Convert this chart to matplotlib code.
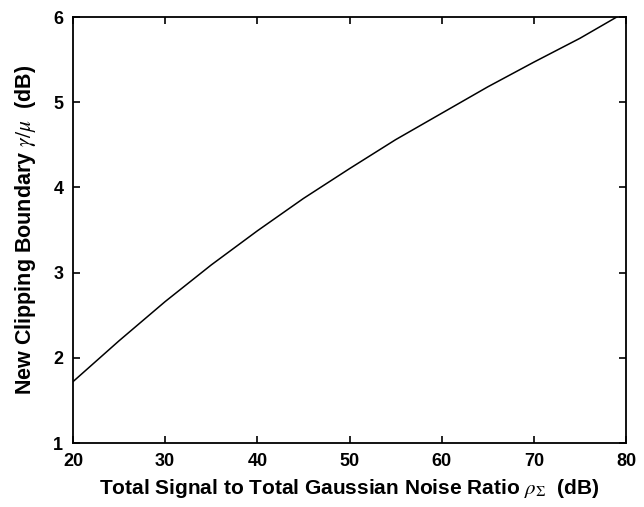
import matplotlib
matplotlib.use("Agg")
import matplotlib.pyplot as plt

snr_db = [20, 25, 30, 35, 40, 45, 50, 55, 60, 65, 70, 75, 79]
clip_db = [1.72, 2.20, 2.66, 3.09, 3.49, 3.87, 4.22, 4.56, 4.87, 5.18, 5.47, 5.75, 6.0]

x_ticks = [20, 30, 40, 50, 60, 70, 80]
y_ticks = [1, 2, 3, 4, 5, 6]

plt.rcParams['font.family'] = ['Liberation Sans', 'DejaVu Sans']
plt.rcParams['mathtext.fontset'] = 'stix'

fig = plt.figure(figsize=(6.44, 5.07), dpi=100)
ax = fig.add_axes([73 / 644, 1 - 443 / 507, (626 - 73) / 644, (443 - 17) / 507])
ax.plot(snr_db, clip_db, color='black', lw=1.1)
ax.set_xlim(20, 80)
ax.set_ylim(1, 6)
ax.set_xticks(x_ticks)
ax.set_yticks(y_ticks)
ax.tick_params(direction='in', length=5, width=1.2, top=True, right=True,
               labelsize=13, pad=7)
for lab in ax.get_xticklabels() + ax.get_yticklabels():
    lab.set_fontweight('bold')
for s in ax.spines.values():
    s.set_linewidth(1.3)
ax.set_xlabel(r'Total Signal to Total Gaussian Noise Ratio $\rho_{\Sigma}$  (dB)',
              fontsize=15, fontweight='bold', labelpad=5)
ax.set_ylabel(r'New Clipping Boundary $\gamma/\mu$  (dB)',
              fontsize=15.5, fontweight='bold', labelpad=11)
fig.savefig('out.png', dpi=100)
